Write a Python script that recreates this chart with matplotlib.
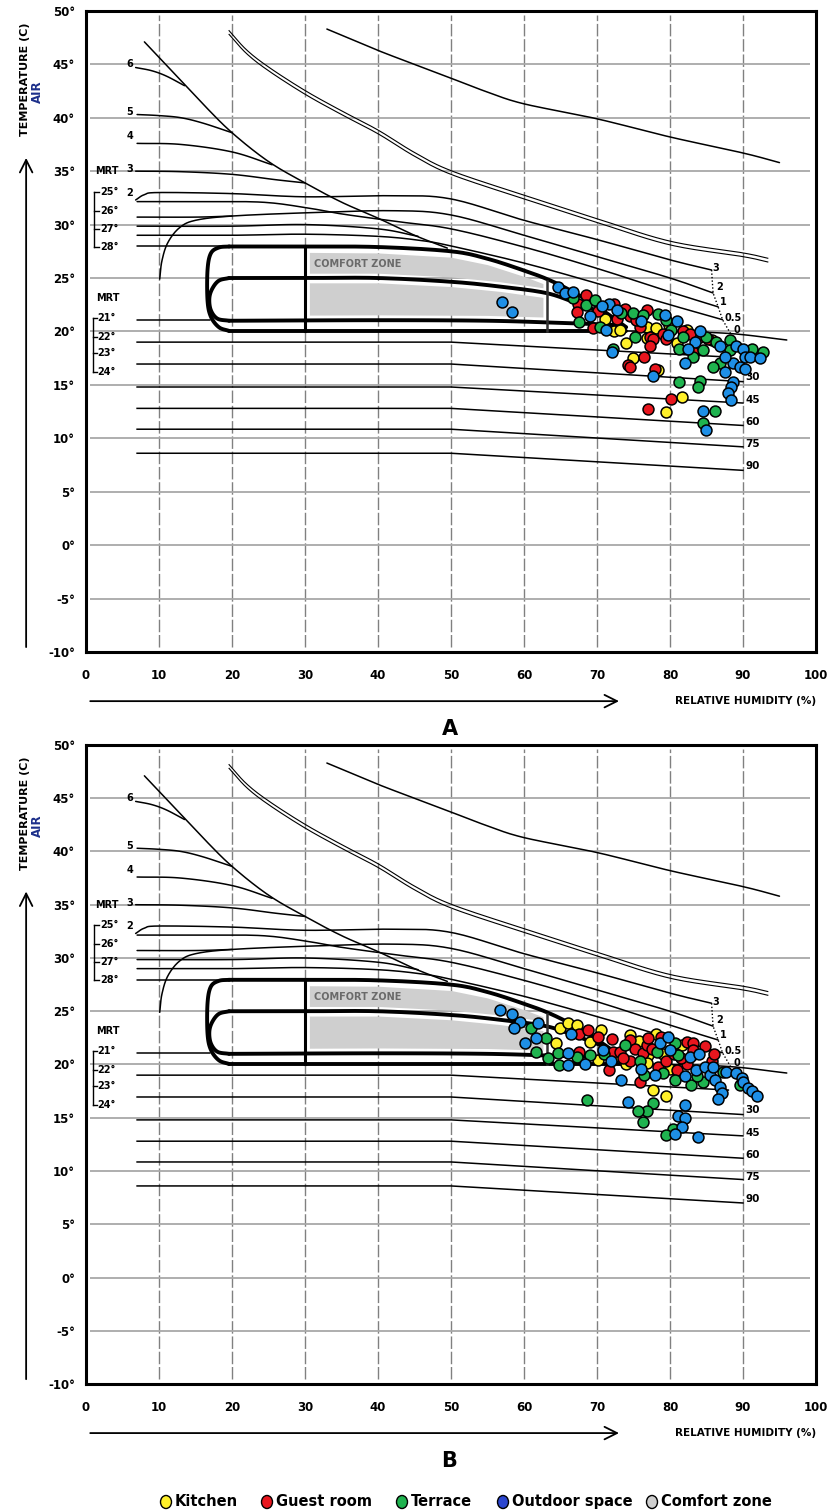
import numpy as np
import matplotlib
matplotlib.use("Agg")
import matplotlib.pyplot as plt
from matplotlib import font_manager
from matplotlib.patches import Ellipse

names = {f.name for f in font_manager.fontManager.ttflist}
FONT = 'Liberation Sans Narrow' if 'Liberation Sans Narrow' in names else 'DejaVu Sans'
plt.rcParams['font.family'] = [FONT, 'DejaVu Sans']
plt.rcParams['font.weight'] = 'bold'

# ---- bioclimatic chart lines (relative humidity %, air temperature C) ----
top_line = [(33, 48.3), (40, 46.3), (45, 45.0), (50, 43.7), (55, 42.4), (60, 41.3),
            (70, 39.9), (80, 38.2), (90, 36.7), (95, 35.8)]
double_line = [(19.6, 48.0), (22, 46.2), (25, 44.6), (30, 42.4), (35, 40.5), (40, 38.7),
               (45, 36.6), (50, 34.9), (60, 32.6), (70, 30.4), (80, 28.3), (90, 27.2), (93.4, 26.7)]
diagonal = [(8, 47.1), (12, 44.2), (16, 41.3), (20, 38.6), (25, 35.9), (30, 33.9),
            (35, 32.1), (40, 30.6), (45, 29.0), (49.5, 27.8)]
left_lines = {
    '6': [(6.8, 44.7), (9, 44.4), (11, 43.9), (13.5, 43.0)],
    '5': [(7, 40.3), (10, 40.2), (13, 40.0), (16, 39.5), (20, 38.6)],
    '4': [(7, 37.6), (13, 37.5), (20, 36.8), (25.5, 35.6)],
    '3': [(6.8, 35.0), (13, 34.95), (20, 34.7), (26, 34.2), (30, 33.9)],
}
wind_lines = {
    '3': [(6.8, 32.3), (8, 32.8), (10, 33.0), (20, 32.9), (30, 32.6), (42, 32.7), (50, 32.4),
          (60, 30.4), (70, 28.6), (80, 26.7), (85.7, 25.75)],
    '2': [(10.1, 24.9), (10.4, 26.6), (11.2, 28.3), (12.8, 29.7), (15, 30.4), (20, 30.8),
          (30, 31.1), (42, 31.3), (50, 30.9), (60, 29.0), (70, 27.0), (80, 25.0), (85.9, 23.6)],
    '1': [(7, 32.15), (15, 32.15), (24, 32.1), (30, 31.6), (35, 31.0), (42.4, 30.3), (50, 29.6),
          (60, 27.9), (70, 25.9), (80, 23.7), (86.6, 22.3)],
    '0.5': [(7, 29.0), (20, 29.0), (30, 29.1), (40, 28.9), (46, 28.5), (50, 28.0), (60, 26.4),
            (70, 24.5), (80, 22.5), (87.2, 21.1)],
    '0': [(72, 20.05), (80, 20.0), (88.3, 19.8), (96, 19.2)],
}
mrt_lines = [[(7, 30.7), (15, 30.7), (20, 30.8)],
             [(7, 29.85), (20, 29.85), (30, 30.0), (40, 29.6), (45.5, 28.9)],
             [(7, 27.95), (19.6, 27.95)],
             [(7, 21.05), (17.0, 21.05)]]
wind_end_labels = ['3', '2', '1', '0.5', '0']
wind_label_pos = [(86.3, 25.9), (86.8, 24.2), (87.3, 22.8), (88.6, 21.3), (89.1, 20.1)]

lower_start = [19.0, 16.95, 14.8, 12.8, 10.85, 8.6]
lower_end = [17.6, 15.3, 13.3, 11.2, 9.2, 7.0]
lower_end_rh = [88, 90, 90, 90, 90, 90]
lower_labels = ['', '30', '45', '60', '75', '90']
lower_label_t = [None, 15.7, 13.6, 11.5, 9.45, 7.4]

# comfort zone outlines
outer_top = [(19.6, 27.95), (30, 27.95), (40, 27.9), (50, 27.5), (55, 26.8), (60, 25.7),
             (63.5, 24.8), (67, 23.6), (70.5, 22.1), (74, 20.4)]
outer_left = [(19.6, 27.95), (18.2, 27.85), (17.1, 27.3), (16.65, 25.75), (16.65, 22.9),
              (17.1, 21.4), (18.2, 20.4), (19.6, 20.05)]
outer_bottom = [(19.6, 20.05), (74, 20.05)]
inner_top = [(19.6, 25.0), (30, 25.0), (40, 25.0), (50, 24.65), (56.7, 24.2), (63, 23.6),
             (67, 22.7), (70.5, 21.8), (73, 20.9)]
inner_left = [(19.6, 25.0), (18.2, 24.75), (17.3, 24.0), (16.9, 23.1), (17.1, 22.0),
              (18.0, 21.2), (19.6, 21.0)]
inner_bottom = [(19.6, 21.0), (40, 21.05), (55, 21.0), (65, 20.8), (73, 20.6)]

# ---- measurements ----
kitchen_a = [(71.1, 21.2), (72.4, 20.0), (73.1, 20.1), (74.0, 18.9), (76.8, 20.4), (76.8, 19.4),
             (78.1, 20.3), (80.9, 18.9), (82.3, 20.1), (85.7, 19.2), (75.0, 17.5), (78.4, 16.4),
             (81.6, 13.9), (79.5, 12.5), (79.8, 20.6), (83.9, 19.8)]
guest_a = [(68.5, 23.4), (67.4, 22.6), (67.2, 21.8), (69.5, 20.3), (72.4, 22.6), (72.7, 21.2),
           (74.5, 21.4), (75.9, 20.4), (76.8, 22.0), (77.2, 19.5), (77.7, 19.3), (77.2, 18.6),
           (79.1, 19.8), (79.5, 19.3), (81.8, 20.0), (83.2, 18.1), (84.1, 19.5), (76.5, 17.6),
           (74.3, 16.9), (74.5, 16.7), (77.9, 16.5), (80.2, 13.7), (77.0, 12.7), (75.4, 21.1),
           (85.2, 19.3), (73.9, 22.1), (82.8, 19.8), (70.2, 21.9)]
terrace_a = [(66.7, 23.1), (68.5, 22.5), (67.6, 20.9), (70.4, 20.4), (73.3, 21.7), (74.9, 21.7),
             (76.3, 21.5), (79.5, 21.1), (80.2, 20.1), (81.8, 19.5), (81.3, 18.4), (85.0, 19.5),
             (84.5, 18.3), (88.2, 19.2), (88.2, 18.3), (91.2, 18.4), (92.8, 18.1), (86.8, 17.0),
             (85.9, 16.7), (75.2, 19.5), (72.2, 18.4), (83.2, 17.6), (81.3, 15.3), (84.1, 15.4),
             (83.9, 14.8), (86.1, 12.6), (84.5, 11.4), (78.3, 21.6), (86.3, 19.0), (69.7, 22.9)]
outdoor_a = [(57.0, 22.8), (58.3, 21.85), (64.7, 24.2), (65.6, 23.6), (66.7, 23.7), (69.0, 21.4),
             (71.7, 22.6), (72.7, 22.0), (70.7, 22.4), (79.3, 21.5), (79.7, 19.7), (84.1, 20.0),
             (83.4, 19.0), (82.5, 18.4), (86.8, 18.6), (89.1, 18.6), (90.0, 18.4), (90.3, 17.6),
             (91.0, 17.6), (92.3, 17.5), (88.7, 17.0), (89.6, 16.7), (90.3, 16.5), (87.5, 17.6),
             (82.0, 17.0), (87.5, 16.2), (71.3, 20.1), (72.0, 18.1), (77.7, 15.8), (88.7, 15.3),
             (88.4, 14.8), (88.0, 14.2), (88.4, 13.6), (84.5, 12.6), (85.0, 10.8), (76.0, 21.0),
             (81.0, 21.0)]

kitchen_b = [(64.9, 23.4), (66.0, 23.9), (67.2, 23.7), (64.4, 22.0), (69.0, 22.1), (70.6, 23.2),
             (70.1, 20.4), (74.5, 22.8), (74.0, 20.0), (78.1, 22.9), (77.0, 20.9), (76.8, 20.1),
             (81.6, 21.8), (80.0, 19.6), (77.7, 17.6), (79.5, 17.0), (72.5, 20.8), (79.0, 21.0),
             (75.8, 22.2), (83.0, 20.9)]
guest_b = [(67.6, 22.9), (68.8, 23.2), (67.6, 21.2), (70.1, 22.6), (71.7, 19.5), (72.2, 21.2),
           (73.1, 21.2), (74.5, 22.3), (75.2, 21.5), (76.3, 21.1), (76.8, 21.8), (78.8, 22.6),
           (74.5, 20.3), (75.9, 18.4), (78.4, 19.8), (79.5, 20.3), (82.3, 22.1), (83.2, 22.0),
           (82.3, 20.0), (80.9, 19.5), (84.8, 21.7), (83.2, 21.4), (85.7, 20.3), (77.5, 21.5),
           (80.5, 21.0), (72.0, 22.4), (73.6, 20.6), (77.0, 22.5), (81.5, 20.6), (86.0, 21.0)]
terrace_b = [(61.0, 23.4), (61.7, 21.2), (63.0, 22.5), (63.3, 20.6), (64.8, 19.95), (68.6, 16.7),
             (64.7, 21.1), (67.2, 20.7), (69.0, 20.9), (73.8, 21.8), (75.9, 20.3), (76.5, 19.0),
             (80.7, 22.0), (81.1, 20.9), (80.7, 18.5), (82.9, 18.1), (84.5, 18.4), (87.3, 19.3),
             (89.6, 18.1), (77.7, 16.4), (76.8, 15.6), (75.6, 15.6), (76.3, 14.6), (80.4, 13.9),
             (79.5, 13.4), (71.0, 21.0), (78.2, 21.2), (79.0, 19.2), (83.7, 18.9)]
outdoor_b = [(56.7, 25.1), (58.3, 24.7), (59.4, 24.0), (58.7, 23.4), (60.1, 22.0), (61.9, 23.9),
             (61.7, 22.5), (66.0, 19.95), (68.3, 20.0), (66.5, 22.9), (66.0, 21.1), (70.8, 21.4),
             (73.3, 18.5), (77.9, 19.0), (78.6, 22.0), (80.0, 21.4), (79.7, 22.6), (82.7, 20.7),
             (82.0, 18.9), (83.6, 19.5), (84.8, 19.8), (85.5, 19.0), (86.1, 18.5), (86.8, 17.9),
             (87.1, 17.3), (86.6, 16.8), (87.7, 19.3), (89.1, 19.2), (89.8, 18.7), (90.0, 18.4),
             (90.7, 17.8), (91.2, 17.5), (91.9, 17.0), (74.3, 16.5), (82.0, 16.2), (81.1, 15.2),
             (82.0, 15.0), (81.6, 14.1), (80.7, 13.5), (83.9, 13.2), (71.9, 20.3), (76.0, 19.6),
             (84.0, 21.0), (85.9, 19.8)]

series_names = ['Kitchen', 'Guest room', 'Terrace', 'Outdoor space']
dot_colors = ['#fff02a', '#e8161e', '#1fb34f', '#1e8fe6']
legend_colors = ['#fff02a', '#e8161e', '#1fb34f', '#2b46cf', '#cfcfcf']
panels = [('A', [kitchen_a, guest_a, terrace_a, outdoor_a]),
          ('B', [kitchen_b, guest_b, terrace_b, outdoor_b])]


def smooth(pts, n=16):
    p = np.array(pts, float)
    if len(p) < 3:
        return p[:, 0], p[:, 1]
    p = np.vstack([2 * p[0] - p[1], p, 2 * p[-1] - p[-2]])
    t = np.linspace(0, 1, n, endpoint=False)[:, None]
    out = []
    for i in range(1, len(p) - 2):
        p0, p1, p2, p3 = p[i - 1], p[i], p[i + 1], p[i + 2]
        out.append(0.5 * (2 * p1 + (-p0 + p2) * t + (2 * p0 - 5 * p1 + 4 * p2 - p3) * t ** 2
                          + (-p0 + 3 * p1 - 3 * p2 + p3) * t ** 3))
    out.append(p[-2][None, :])
    out = np.vstack(out)
    return out[:, 0], out[:, 1]


def line(ax, pts, lw=1.1, **kw):
    x, y = smooth(pts)
    ax.plot(x, y, color='black', lw=lw, solid_capstyle='round', **kw)


def draw_chart(ax, letter, groups):
    ax.set_xlim(0, 100)
    ax.set_ylim(-10, 50)
    for s in ax.spines.values():
        s.set_linewidth(2.2)
    ax.set_xticks(range(0, 101, 10))
    ax.set_yticks(range(-10, 51, 5))
    ax.set_yticklabels([f'{v}°' for v in range(-10, 51, 5)], fontsize=8.5)
    ax.set_xticklabels([str(v) for v in range(0, 101, 10)], fontsize=8.5)
    ax.tick_params(length=0)
    ax.tick_params(axis='y', pad=8)
    ax.tick_params(axis='x', pad=12)

    # grid
    ax.vlines(range(10, 100, 10), -9.5, 49.6, colors='#808080', lw=1.0,
              linestyles=(0, (9, 2)), zorder=1)
    ax.hlines(range(-5, 50, 5), 0.5, 99.2, colors='#a8a8a8', lw=1.3, zorder=1)

    # comfort zone shading
    gx = np.linspace(30.6, 62.6, 200)
    o_top = np.interp(gx, *zip(*outer_top))
    i_top = np.interp(gx, *zip(*inner_top))
    i_bot = np.interp(gx, *zip(*inner_bottom))
    up_hi, up_lo = o_top - 0.55, i_top + 0.45
    ax.fill_between(gx, up_lo, up_hi, where=up_hi > up_lo, color='#cfcfcf', lw=0, zorder=2)
    ax.fill_between(gx, i_bot + 0.5, i_top - 0.45, color='#cfcfcf', lw=0, zorder=2)
    ax.text(31.2, 26.35, 'COMFORT ZONE', fontsize=7, color='#6a6a6a', va='center', zorder=3)

    # curves
    line(ax, top_line)
    x, y = smooth(double_line)
    ax.plot(x, y + 0.15, color='black', lw=0.8)
    ax.plot(x, y - 0.2, color='black', lw=0.8)
    line(ax, diagonal)
    for pts in left_lines.values():
        line(ax, pts)
    for pts in wind_lines.values():
        line(ax, pts)
    for pts in mrt_lines:
        line(ax, pts)
    for y0, y1, xe in zip(lower_start, lower_end, lower_end_rh):
        ax.plot([7, 50, xe], [y0, y0, y1], color='black', lw=1.1)

    # comfort zone outlines
    for pts in (outer_top, outer_left, outer_bottom, inner_top, inner_left, inner_bottom):
        line(ax, pts, lw=2.8, zorder=4)
    ax.plot([30, 30], [20.05, 27.95], color='black', lw=2.2, zorder=4)
    ax.plot([63.1, 63.1], [20.05, 24.75], color='#333333', lw=1.8, zorder=4)

    # dotted connector of wind line ends
    ends = [pts[-1] for k, pts in wind_lines.items() if k != '0'] + [(88.3, 19.8)]
    ax.plot(*zip(*ends), color='black', lw=1.0, ls=(0, (1, 1.5)))
    for lab, (lx, ly) in zip(wind_end_labels, wind_label_pos):
        ax.text(lx, ly, lab, fontsize=7, ha='center', va='center')
    for lab, ly in zip(lower_labels, lower_label_t):
        if lab:
            ax.text(90.3, ly, lab, fontsize=7.5, ha='left', va='center')

    # left labels
    for lab, ly in zip(['6', '5', '4', '3', '2'], [45.0, 40.5, 38.3, 35.2, 33.0]):
        ax.text(6.0, ly, lab, fontsize=7, ha='center', va='center')
    ax.text(2.9, 35.0, 'MRT', fontsize=7, ha='center', va='center')
    ax.text(3.0, 23.1, 'MRT', fontsize=7, ha='center', va='center')
    for lab, ly in zip(['25°', '26°', '27°', '28°'], [33.05, 31.3, 29.6, 27.9]):
        ax.text(1.9, ly, lab, fontsize=7, ha='left', va='center')
        ax.plot([1.1, 1.8], [ly, ly], color='black', lw=1.0)
    ax.plot([1.1, 1.1], [33.05, 27.9], color='black', lw=1.0)
    for lab, ly in zip(['21°', '22°', '23°', '24°'], [21.25, 19.5, 18.0, 16.2]):
        ax.text(1.6, ly, lab, fontsize=7, ha='left', va='center')
        ax.plot([0.9, 1.5], [ly, ly], color='black', lw=1.0)
    ax.plot([0.9, 0.9], [21.25, 16.2], color='black', lw=1.0)

    # measured points
    for pts, c in zip(groups, dot_colors):
        xs, ys = zip(*pts)
        ax.scatter(xs, ys, s=62, color=c, edgecolor='black', lw=1.1, zorder=6)

    # axis titles and arrows
    ax.text(-8.4, 43.6, 'TEMPERATURE (C)', rotation=90, fontsize=8, ha='center', va='center',
            clip_on=False)
    ax.text(-6.6, 42.4, 'AIR', rotation=90, fontsize=8.5, ha='center', va='center',
            color='#1c2f8a', clip_on=False)
    ax.annotate('', xy=(-8.2, 36.5), xytext=(-8.2, -9.8),
                arrowprops=dict(arrowstyle='->,head_length=0.9,head_width=0.45', lw=1.3),
                annotation_clip=False)
    ax.annotate('', xy=(73.4, -14.6), xytext=(0.2, -14.6),
                arrowprops=dict(arrowstyle='->,head_length=0.9,head_width=0.45', lw=1.3),
                annotation_clip=False)
    ax.text(100, -14.6, 'RELATIVE HUMIDITY (%)', fontsize=7.5, ha='right', va='center',
            clip_on=False)
    ax.text(49.8, -17.2, letter, fontsize=15, ha='center', va='center', clip_on=False)


fig = plt.figure(figsize=(8.3, 15.11), dpi=100)
axA = fig.add_axes([0.1036, 0.5685, 0.8795, 0.4243])
axB = fig.add_axes([0.1036, 0.0840, 0.8795, 0.4230])
for ax, (letter, groups) in zip([axA, axB], panels):
    draw_chart(ax, letter, groups)

# legend row
lg = fig.add_axes([0, 0, 1, 0.02])
lg.set_xlim(0, 830)
lg.set_ylim(0, 30.2)
lg.axis('off')
leg_x = [166, 267, 402, 503, 652]
for cx, c, name in zip(leg_x, legend_colors, series_names + ['Comfort zone']):
    lg.add_patch(Ellipse((cx, 9), 11, 13, facecolor=c, edgecolor='black', lw=1.0))
    lg.text(cx + 9, 9, name, fontsize=10.5, ha='left', va='center')

fig.savefig('out.png', dpi=100)
